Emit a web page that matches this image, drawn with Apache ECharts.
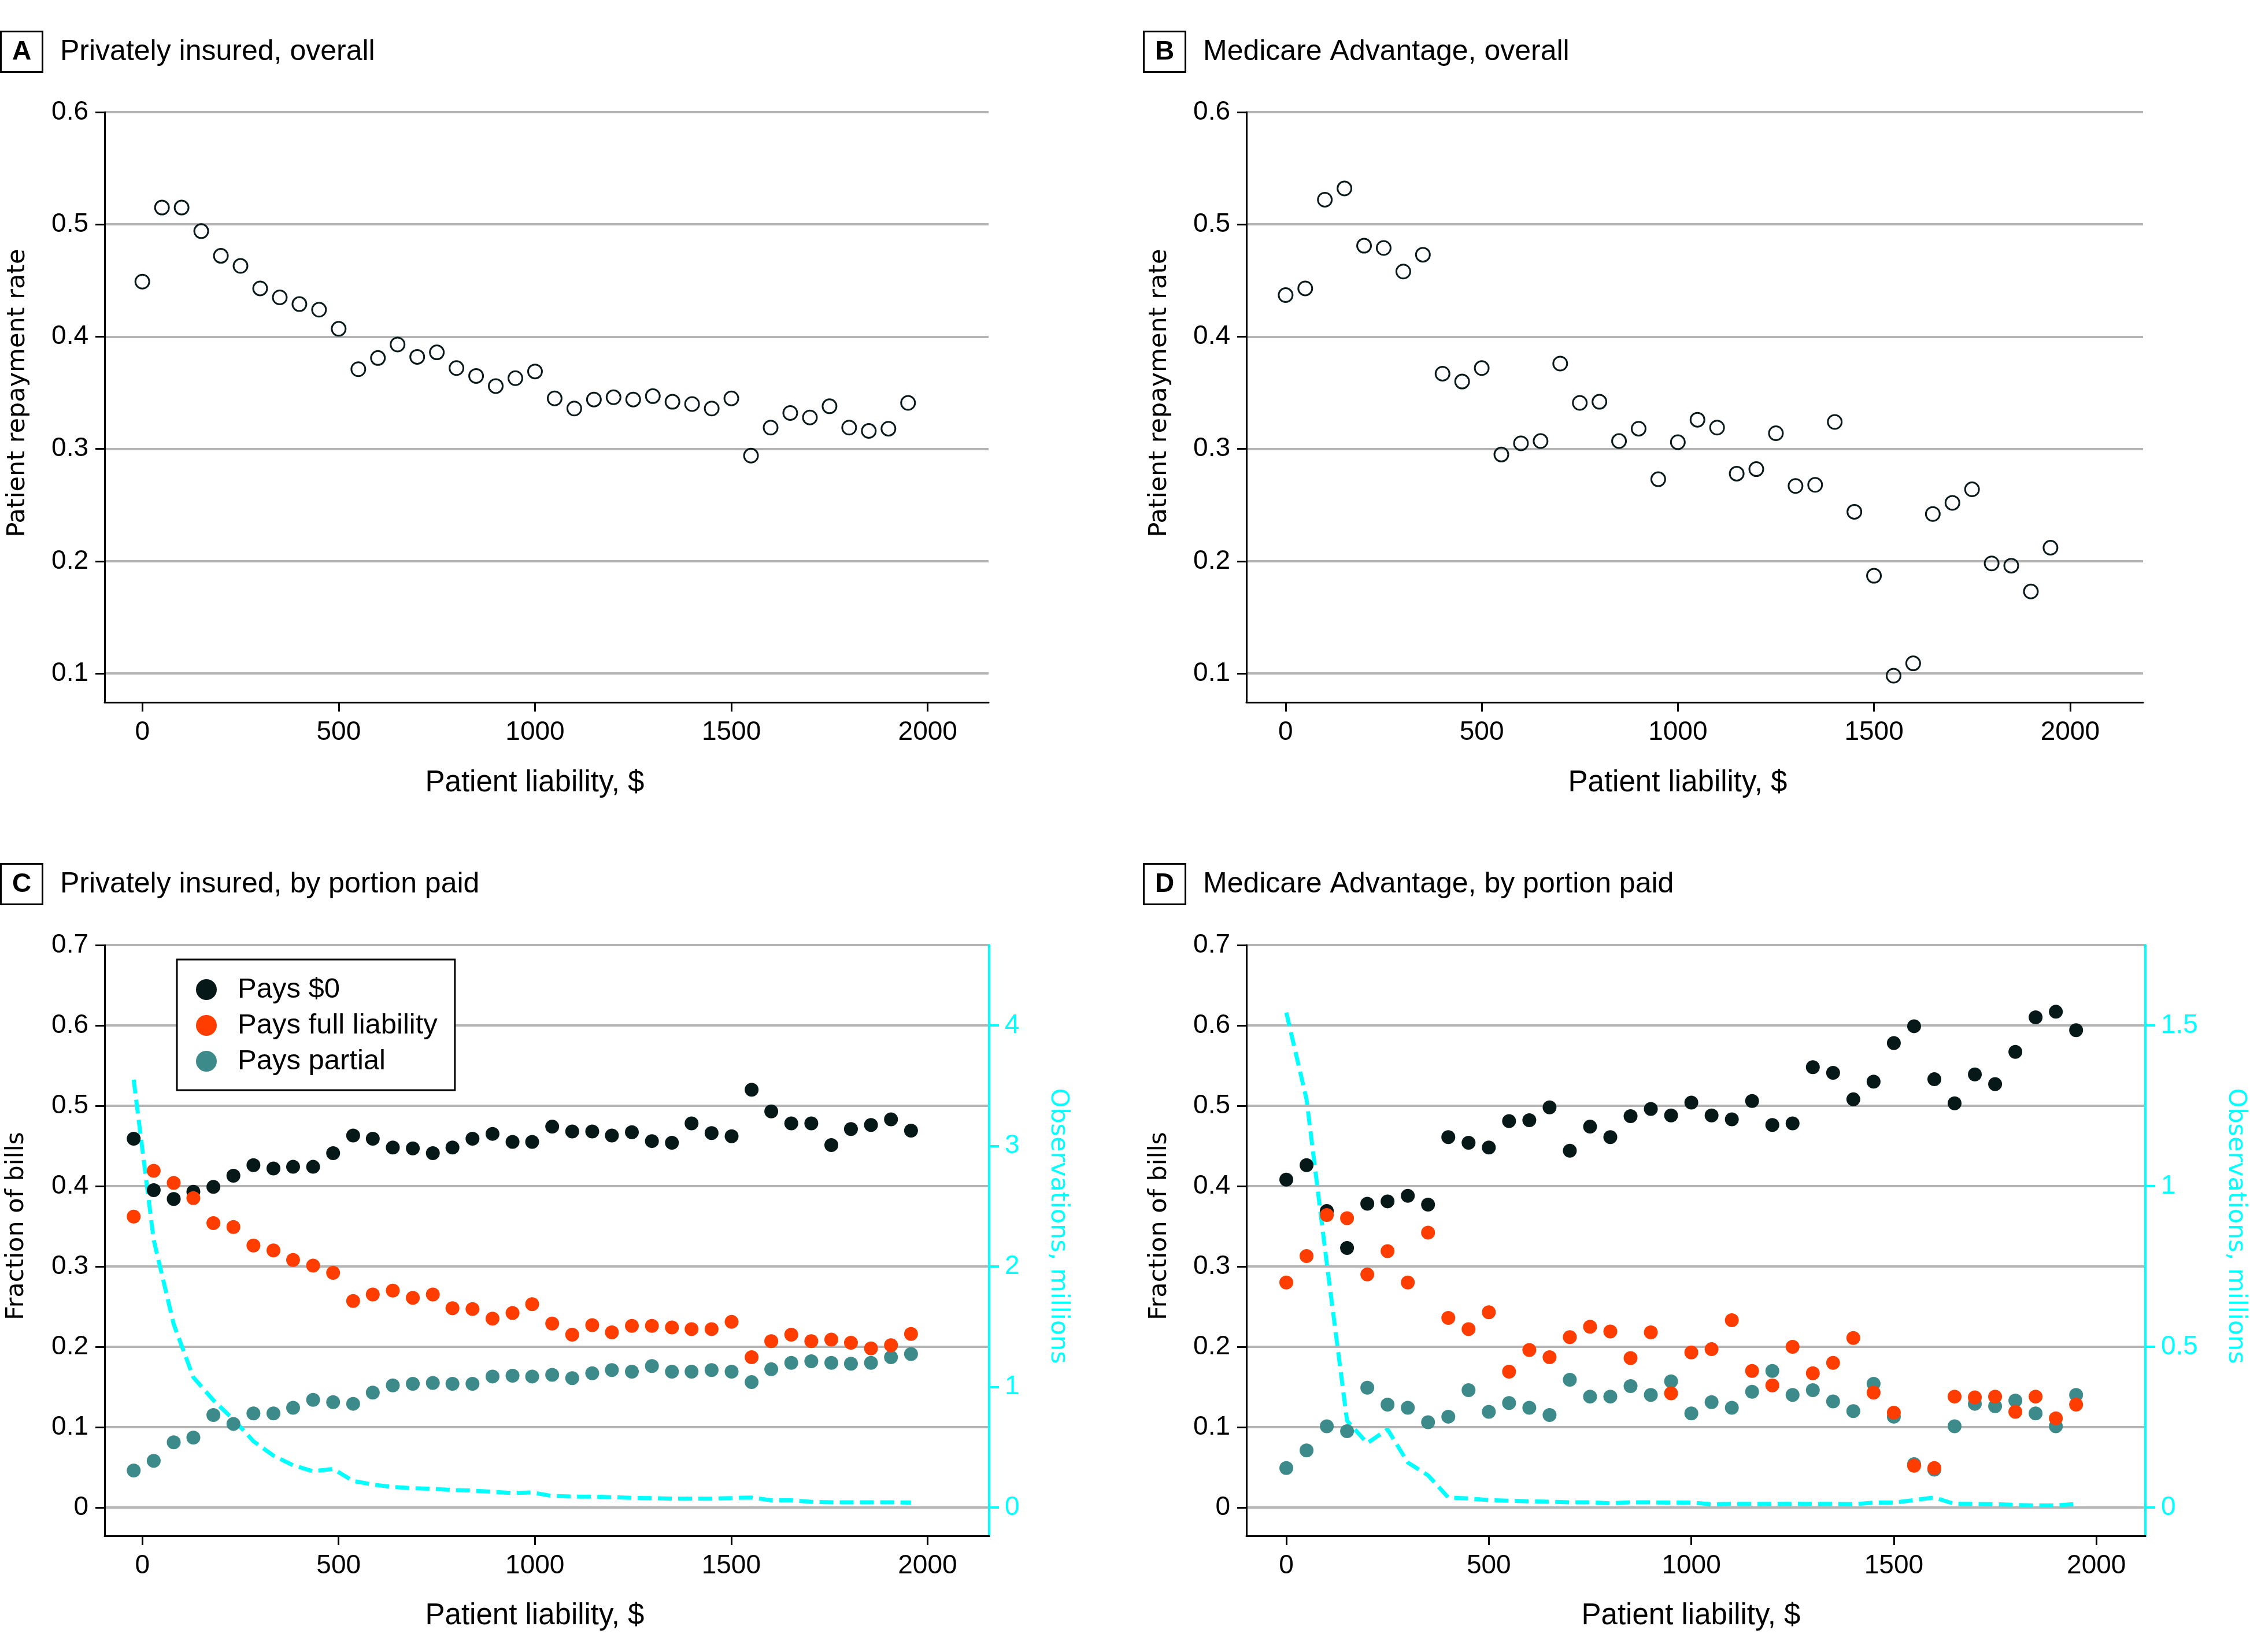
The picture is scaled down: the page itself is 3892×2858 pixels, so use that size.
<!DOCTYPE html>
<html>
<head>
<meta charset="utf-8">
<title>Patient repayment by liability</title>
<script src="https://cdn.jsdelivr.net/npm/echarts@6/dist/echarts.min.js"></script>
<style>
  html, body { margin: 0; padding: 0; background: #fff; }
  #chart { width: 3892px; height: 2858px; }
</style>
</head>
<body>
<div id="chart"></div>
<script>
// liability bins ($)
const binsAB = [0, 50, 100, 150, 200, 250, 300, 350, 400, 450, 500, 550, 600, 650, 700, 750, 800, 850, 900, 950,
  1000, 1050, 1100, 1150, 1200, 1250, 1300, 1350, 1400, 1450, 1500, 1550, 1600, 1650, 1700, 1750, 1800, 1850, 1900, 1950];
const binsC = [-22, 29, 80, 130, 181, 232, 283, 334, 384, 435, 486, 537, 587, 638, 689, 740, 790, 841, 892, 943,
  993, 1044, 1095, 1146, 1196, 1247, 1298, 1349, 1399, 1450, 1501, 1552, 1602, 1653, 1704, 1755, 1805, 1856, 1907, 1958];
const binsD = binsAB;

// A: privately insured, overall repayment rate
const privRate = [0.449, 0.515, 0.515, 0.494, 0.472, 0.463, 0.443, 0.435, 0.429, 0.424, 0.407, 0.371, 0.381, 0.393, 0.382, 0.386, 0.372, 0.365, 0.356, 0.363,
  0.369, 0.345, 0.336, 0.344, 0.346, 0.344, 0.347, 0.342, 0.340, 0.336, 0.345, 0.294, 0.319, 0.332, 0.328, 0.338, 0.319, 0.316, 0.318, 0.341];
// B: Medicare Advantage, overall repayment rate
const maRate = [0.437, 0.443, 0.522, 0.532, 0.481, 0.479, 0.458, 0.473, 0.367, 0.360, 0.372, 0.295, 0.305, 0.307, 0.376, 0.341, 0.342, 0.307, 0.318, 0.273,
  0.306, 0.326, 0.319, 0.278, 0.282, 0.314, 0.267, 0.268, 0.324, 0.244, 0.187, 0.098, 0.109, 0.242, 0.252, 0.264, 0.198, 0.196, 0.173, 0.212];

// C: privately insured, by portion paid
const privZero = [0.459, 0.395, 0.384, 0.393, 0.399, 0.413, 0.426, 0.422, 0.424, 0.424, 0.441, 0.463, 0.459, 0.448, 0.447, 0.441, 0.448, 0.459, 0.465, 0.455,
  0.455, 0.474, 0.468, 0.468, 0.463, 0.467, 0.456, 0.454, 0.478, 0.466, 0.462, 0.520, 0.493, 0.478, 0.478, 0.451, 0.471, 0.476, 0.483, 0.469];
const privFull = [0.362, 0.419, 0.404, 0.385, 0.354, 0.349, 0.326, 0.320, 0.308, 0.301, 0.292, 0.257, 0.265, 0.270, 0.261, 0.265, 0.248, 0.247, 0.235, 0.242,
  0.253, 0.229, 0.215, 0.227, 0.218, 0.226, 0.226, 0.224, 0.222, 0.222, 0.231, 0.187, 0.207, 0.215, 0.207, 0.209, 0.205, 0.198, 0.202, 0.216];
const privPartial = [0.046, 0.058, 0.081, 0.087, 0.115, 0.104, 0.117, 0.117, 0.124, 0.134, 0.131, 0.129, 0.143, 0.152, 0.154, 0.155, 0.154, 0.154, 0.163, 0.164,
  0.163, 0.165, 0.161, 0.167, 0.171, 0.169, 0.176, 0.169, 0.169, 0.171, 0.169, 0.156, 0.172, 0.180, 0.182, 0.180, 0.179, 0.180, 0.187, 0.191];
const privObs = [3.55, 2.22, 1.52, 1.08, 0.89, 0.73, 0.55, 0.43, 0.35, 0.30, 0.32, 0.22, 0.19, 0.17, 0.16, 0.155, 0.145, 0.14, 0.13, 0.12,
  0.125, 0.095, 0.09, 0.09, 0.085, 0.08, 0.078, 0.073, 0.073, 0.073, 0.078, 0.082, 0.06, 0.06, 0.047, 0.043, 0.043, 0.043, 0.043, 0.04];

// D: Medicare Advantage, by portion paid
const maZero = [0.408, 0.426, 0.369, 0.323, 0.378, 0.381, 0.388, 0.377, 0.461, 0.454, 0.448, 0.481, 0.482, 0.498, 0.444, 0.474, 0.461, 0.487, 0.496, 0.488,
  0.504, 0.488, 0.483, 0.506, 0.476, 0.478, 0.548, 0.541, 0.508, 0.530, 0.578, 0.599, 0.533, 0.503, 0.539, 0.527, 0.567, 0.610, 0.617, 0.594];
const maFull = [0.280, 0.313, 0.364, 0.360, 0.290, 0.319, 0.280, 0.342, 0.236, 0.222, 0.243, 0.169, 0.196, 0.187, 0.212, 0.225, 0.219, 0.186, 0.218, 0.142,
  0.193, 0.197, 0.233, 0.170, 0.152, 0.200, 0.167, 0.180, 0.211, 0.143, 0.118, 0.052, 0.049, 0.138, 0.137, 0.138, 0.119, 0.138, 0.111, 0.128];
const maPartial = [0.049, 0.071, 0.101, 0.095, 0.149, 0.128, 0.124, 0.106, 0.113, 0.146, 0.119, 0.130, 0.124, 0.115, 0.159, 0.138, 0.138, 0.151, 0.140, 0.157,
  0.117, 0.131, 0.124, 0.144, 0.170, 0.140, 0.146, 0.132, 0.120, 0.154, 0.113, 0.054, 0.047, 0.101, 0.129, 0.126, 0.133, 0.117, 0.101, 0.140];
const maObs = [1.54, 1.27, 0.76, 0.27, 0.20, 0.243, 0.14, 0.10, 0.031, 0.028, 0.023, 0.021, 0.019, 0.018, 0.016, 0.016, 0.013, 0.016, 0.016, 0.015,
  0.015, 0.010, 0.011, 0.011, 0.011, 0.011, 0.011, 0.011, 0.010, 0.015, 0.015, 0.023, 0.031, 0.011, 0.011, 0.010, 0.008, 0.006, 0.006, 0.011];

// tick labels
const xTicks = [0, 500, 1000, 1500, 2000];
const yTicksTop = [0.1, 0.2, 0.3, 0.4, 0.5, 0.6];
const yTicksBottom = [0, 0.1, 0.2, 0.3, 0.4, 0.5, 0.6, 0.7];
const obsTicksC = [0, 1, 2, 3, 4];
const obsTicksD = [0, 0.5, 1, 1.5];

const FONT = '"Liberation Sans", Arial, sans-serif';
const WIDE = '"DejaVu Sans", Verdana, sans-serif';
const CYAN = '#00ffff';
const C_ZERO = '#061818', C_FULL = '#ff3d00', C_PART = '#3d8a8a';

const pairs = (xs, ys) => xs.map((x, i) => [x, ys[i]]);

function xAxisFor(grid, min, max) {
  return {
    type: 'value', gridIndex: grid, min: min, max: max,
    axisLine: { show: true, onZero: false, lineStyle: { color: '#000', width: 3 } },
    axisTick: { show: true, length: 16, lineStyle: { color: '#000', width: 3 }, customValues: xTicks },
    axisLabel: { customValues: xTicks, margin: 29, fontSize: 46, lineHeight: 46, fontFamily: FONT, color: '#000',
      formatter: v => String(v) },
    splitLine: { show: false }
  };
}
function yLeft(grid, min, max, ticks) {
  return {
    type: 'value', gridIndex: grid, position: 'left', min: min, max: max,
    axisLine: { show: true, onZero: false, lineStyle: { color: '#000', width: 3 } },
    axisTick: { show: true, length: 16, lineStyle: { color: '#000', width: 3 }, customValues: ticks },
    axisLabel: { customValues: ticks, margin: 28, fontSize: 46, lineHeight: 46, fontFamily: FONT, color: '#000',
      formatter: v => String(v) },
    splitLine: { show: true, lineStyle: { color: '#b4b4b4', width: 4 } }
  };
}
function yRight(grid, min, max, ticks) {
  return {
    type: 'value', gridIndex: grid, position: 'right', min: min, max: max,
    axisLine: { show: true, onZero: false, lineStyle: { color: CYAN, width: 4 } },
    axisTick: { show: true, length: 17, lineStyle: { color: CYAN, width: 4 }, customValues: ticks },
    axisLabel: { customValues: ticks, margin: 27, fontSize: 46, lineHeight: 46, fontFamily: FONT, color: CYAN,
      formatter: v => String(v) },
    splitLine: { show: false }
  };
}

function hollow(name, xi, yi, data) {
  return {
    name: name, type: 'scatter', xAxisIndex: xi, yAxisIndex: yi, data: data,
    symbol: 'circle', symbolSize: 24,
    itemStyle: { color: 'rgba(255,255,255,0)', borderColor: '#0a1a1a', borderWidth: 3, opacity: 1 }
  };
}
function dots(name, color, xi, yi, data) {
  return {
    name: name, type: 'scatter', xAxisIndex: xi, yAxisIndex: yi, data: data,
    symbol: 'circle', symbolSize: 24, itemStyle: { color: color, opacity: 1 }, z: 3
  };
}
function obsLine(xi, yi, data) {
  return {
    name: 'Observations', type: 'line', xAxisIndex: xi, yAxisIndex: yi, data: data,
    symbol: 'none', z: 2,
    lineStyle: { color: CYAN, width: 7, type: [24, 11], cap: 'butt' }
  };
}

function panelTitle(letter, text, x, y) {
  return [
    { text: letter, left: x + 1, top: y + 1, padding: [13, 20, 12, 20], borderColor: '#000', borderWidth: 3,
      textStyle: { fontFamily: FONT, fontWeight: 'bold', fontSize: 46, lineHeight: 46, color: '#000' } },
    { text: text, left: x + 104, top: y + 12, padding: 0,
      textStyle: { fontFamily: FONT, fontWeight: 'normal', fontSize: 50, lineHeight: 50, color: '#000' } }
  ];
}

function label(text, x, y, rot, font, size, color) {
  return {
    type: 'text', x: x, y: y, rotation: rot,
    style: { text: text, font: size + 'px ' + font, fill: color, align: 'center', verticalAlign: 'middle',
      textAlign: 'center', textVerticalAlign: 'middle' }
  };
}

const chart = echarts.init(document.getElementById('chart'), null, { renderer: 'canvas' });
chart.setOption({
  backgroundColor: '#fff',
  animation: false,
  title: [].concat(
    panelTitle('A', 'Privately insured, overall', 0, 53),
    panelTitle('B', 'Medicare Advantage, overall', 1977, 53),
    panelTitle('C', 'Privately insured, by portion paid', 0, 1493),
    panelTitle('D', 'Medicare Advantage, by portion paid', 1977, 1493)
  ),
  legend: {
    data: ['Pays $0', 'Pays full liability', 'Pays partial'],
    orient: 'vertical', left: 306, top: 1660,
    padding: [27, 30, 25, 33], borderColor: '#000', borderWidth: 3, backgroundColor: '#fff',
    itemWidth: 36, itemHeight: 36, itemGap: 12, icon: 'circle', selectedMode: false,
    textStyle: { fontFamily: FONT, fontSize: 49, lineHeight: 50, color: '#000', padding: [0, 0, 0, 31] }
  },
  grid: [
    { left: 181, top: 194, width: 1529, height: 1021 },
    { left: 2156, top: 194, width: 1551, height: 1021 },
    { left: 181, top: 1635, width: 1530, height: 1022 },
    { left: 2156, top: 1635, width: 1555, height: 1022 }
  ],
  xAxis: [
    xAxisFor(0, -96, 2155),
    xAxisFor(1, -100, 2186),
    xAxisFor(2, -96, 2157),
    xAxisFor(3, -98.5, 2121)
  ],
  yAxis: [
    yLeft(0, 0.0743, 0.6, yTicksTop),
    yLeft(1, 0.0743, 0.6, yTicksTop),
    yLeft(2, -0.0353, 0.7, yTicksBottom),
    yRight(2, -0.0353 * 4 / 0.6, 0.7 * 4 / 0.6, obsTicksC),
    yLeft(3, -0.0353, 0.7, yTicksBottom),
    yRight(3, -0.0353 * 1.5 / 0.6, 0.7 * 1.5 / 0.6, obsTicksD)
  ],
  series: [
    hollow('Privately insured', 0, 0, pairs(binsAB, privRate)),
    hollow('Medicare Advantage', 1, 1, pairs(binsAB, maRate)),

    obsLine(2, 3, pairs(binsC, privObs)),
    dots('Pays $0', C_ZERO, 2, 2, pairs(binsC, privZero)),
    dots('Pays partial', C_PART, 2, 2, pairs(binsC, privPartial)),
    dots('Pays full liability', C_FULL, 2, 2, pairs(binsC, privFull)),

    obsLine(3, 5, pairs(binsD, maObs)),
    dots('Pays $0', C_ZERO, 3, 4, pairs(binsD, maZero)),
    dots('Pays partial', C_PART, 3, 4, pairs(binsD, maPartial)),
    dots('Pays full liability', C_FULL, 3, 4, pairs(binsD, maFull))
  ],
  graphic: [
    label('Patient liability, $', 925, 1355, 0, FONT, 51, '#000'),
    label('Patient liability, $', 2902, 1355, 0, FONT, 51, '#000'),
    label('Patient liability, $', 925, 2796, 0, FONT, 51, '#000'),
    label('Patient liability, $', 2925, 2796, 0, FONT, 51, '#000'),
    label('Patient repayment rate', 31, 680, Math.PI / 2, WIDE, 43, '#000'),
    label('Patient repayment rate', 2006, 680, Math.PI / 2, WIDE, 43, '#000'),
    label('Fraction of bills', 29, 2121, Math.PI / 2, WIDE, 43, '#000'),
    label('Fraction of bills', 2006, 2121, Math.PI / 2, WIDE, 43, '#000'),
    label('Observations, millions', 1830, 2121, -Math.PI / 2, WIDE, 43, CYAN),
    label('Observations, millions', 3867, 2121, -Math.PI / 2, WIDE, 43, CYAN)
  ]
});
</script>
</body>
</html>
